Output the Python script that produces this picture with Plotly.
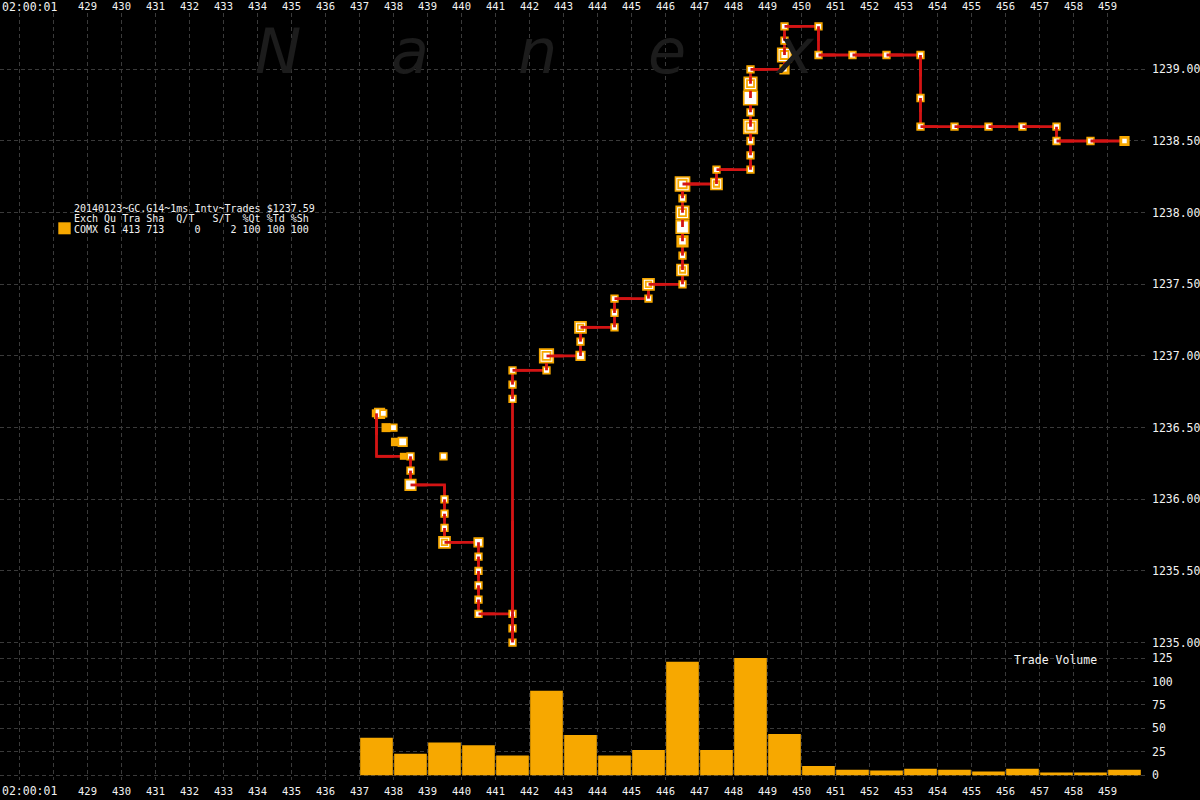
import numpy as np
import plotly.graph_objects as go

# ---------------- data ----------------
# trade volume per millisecond bucket
vol_ms = list(range(437, 460))
vol_shares = [40, 23, 35, 32, 21, 90, 43, 21, 27, 121, 27, 125, 44,
              10, 6, 5, 7, 6, 4, 7, 3, 3, 6]

# trades connected by the red line (ms, price, marker style, marker size)
path_ms = [437.5, 437.5, 438.5, 438.5, 438.5, 439.5, 439.5, 439.5, 439.5, 439.5,
           440.5, 440.5, 440.5, 440.5, 440.5, 440.5,
           441.5, 441.5, 441.5, 441.5, 441.5, 441.5,
           442.5, 442.5, 443.5, 443.5, 443.5, 444.5, 444.5, 444.5, 445.5, 445.5,
           446.5, 446.5, 446.5, 446.5, 446.5, 446.5, 446.5, 446.5,
           447.5, 447.5,
           448.5, 448.5, 448.5, 448.5, 448.5, 448.5, 448.5, 448.5,
           449.5, 449.5, 449.5, 449.5,
           450.5, 450.5, 451.5, 452.5, 453.5, 453.5, 453.5,
           454.5, 455.5, 456.5, 457.5, 457.5, 458.5, 459.5]
path_price = [1236.60, 1236.30, 1236.30, 1236.20, 1236.10, 1236.10, 1236.00, 1235.90, 1235.80, 1235.70,
              1235.70, 1235.60, 1235.50, 1235.40, 1235.30, 1235.20,
              1235.20, 1235.10, 1235.00, 1236.70, 1236.80, 1236.90,
              1236.90, 1237.00, 1237.00, 1237.10, 1237.20, 1237.20, 1237.30, 1237.40, 1237.40, 1237.50,
              1237.50, 1237.60, 1237.70, 1237.80, 1237.90, 1238.00, 1238.10, 1238.20,
              1238.20, 1238.30,
              1238.30, 1238.40, 1238.50, 1238.60, 1238.70, 1238.80, 1238.90, 1239.00,
              1239.00, 1239.10, 1239.20, 1239.30,
              1239.30, 1239.10, 1239.10, 1239.10, 1239.10, 1238.80, 1238.60,
              1238.60, 1238.60, 1238.60, 1238.60, 1238.50, 1238.50, 1238.50]
# '-' corner (no marker), 's' small, 'w' white, 'c' concentric, 'o' orange filled
path_style = ['-', '-', 's', 's', 'w', '-', 's', 's', 's', 'c',
              'w', 's', 's', 's', 's', 's',
              's', 's', 's', 's', 's', 's',
              's', 'c', 'w', 's', 'c', 's', 's', 's', 's', 'c',
              's', 'c', 's', 'o', 'w', 'c', 's', 'c',
              'c', 's',
              's', 's', 's', 'c', 's', 'w', 'c', 's',
              'o', 'c', 's', 's',
              's', 's', 's', 's', 's', 's', 's',
              's', 's', 's', 's', 's', 's', 'o']
path_size = [0, 0, 6.6, 6.6, 10.5, 0, 6.6, 6.6, 6.6, 11,
             8.5, 6.6, 6.6, 6.6, 6.6, 6.6,
             6.6, 6.6, 6.6, 6.6, 6.6, 6.6,
             6.6, 13.5, 8.5, 6.6, 11, 6.6, 6.6, 6.6, 6.6, 11,
             6.6, 11, 6.6, 10.5, 12.5, 12.5, 6.6, 14,
             11, 6.6,
             6.6, 6.6, 6.6, 13.5, 6.6, 13.5, 12.5, 6.6,
             8.5, 13.5, 6.6, 6.6,
             6.6, 6.6, 6.6, 6.6, 6.6, 6.6, 6.6,
             6.6, 6.6, 6.6, 6.6, 6.6, 6.6, 8.5]

# trades not on the line (first millisecond cluster)
off_orange_ms = [437.48, 437.78, 438.05, 438.29]
off_orange_price = [1236.60, 1236.50, 1236.40, 1236.30]
off_orange_size = [8, 9, 8.5, 7]
off_white_ms = [437.59, 437.70, 438.00, 438.27, 439.47]
off_white_price = [1236.60, 1236.60, 1236.50, 1236.40, 1236.30]
off_white_size = [9.5, 6.5, 6.5, 8.5, 6.6]

x_tick_vals = list(range(427, 460))
x_tick_text = ['' if v < 429 else str(v) for v in x_tick_vals]
price_ticks = [1235.0, 1235.5, 1236.0, 1236.5, 1237.0, 1237.5, 1238.0, 1238.5, 1239.0]
vol_ticks = [0, 25, 50, 75, 100, 125]

legend_lines = ["20140123~GC.G14~1ms Intv~Trades $1237.59",
                "Exch Qu Tra Sha  Q/T   S/T  %Qt %Td %Sh",
                "COMX 61 413 713     0     2 100 100 100"]
watermark = ["N", "a", "n", "e", "x"]

# ---------------- style ----------------
ORANGE = "#F7A800"
RED = "#D41414"
GRID = "#3a3a3a"
TXT = "#f2f2f2"
MONO = "DejaVu Sans Mono"

W, H = 1200, 800
ML, MR, MT, MB = 0, 54, 13, 20
PW, PH = W - ML - MR, H - MT - MB


def pxx(x):
    return (x - ML) / PW


def pxy(y):
    return (H - MB - y) / PH


VOL_TOP = 650.5
split = pxy(VOL_TOP)

fig = go.Figure()

# red line (full, under markers)
fig.add_trace(go.Scatter(x=path_ms, y=path_price, mode="lines",
                         line=dict(color=RED, width=2.8), xaxis="x", yaxis="y",
                         hoverinfo="skip"))

# off-line orange squares
fig.add_trace(go.Scatter(x=off_orange_ms, y=off_orange_price, mode="markers",
                         marker=dict(symbol="square", size=off_orange_size, color=ORANGE,
                                     opacity=1, line=dict(width=0)),
                         xaxis="x", yaxis="y", hoverinfo="skip"))
fig.add_trace(go.Scatter(x=off_white_ms, y=off_white_price, mode="markers",
                         marker=dict(symbol="square", size=off_white_size, color="white",
                                     opacity=1, line=dict(width=1.7, color=ORANGE)),
                         xaxis="x", yaxis="y", hoverinfo="skip"))

# outer markers on the path
idx = [i for i, s in enumerate(path_style) if s != '-']
fig.add_trace(go.Scatter(
    x=[path_ms[i] for i in idx], y=[path_price[i] for i in idx], mode="markers",
    marker=dict(symbol="square", size=[path_size[i] for i in idx], opacity=1,
                color=[ORANGE if path_style[i] == 'o' else "white" for i in idx],
                line=dict(width=1.7, color=ORANGE)),
    xaxis="x", yaxis="y", hoverinfo="skip"))

# inner squares of concentric markers
ic = [i for i, s in enumerate(path_style) if s == 'c']
fig.add_trace(go.Scatter(
    x=[path_ms[i] for i in ic], y=[path_price[i] for i in ic], mode="markers",
    marker=dict(symbol="square", size=[path_size[i] - 5.5 for i in ic], color="white",
                opacity=1, line=dict(width=1.8, color=ORANGE)),
    xaxis="x", yaxis="y", hoverinfo="skip"))

# white centres of orange markers
io = [i for i, s in enumerate(path_style) if s == 'o']
fig.add_trace(go.Scatter(
    x=[path_ms[i] for i in io], y=[path_price[i] for i in io], mode="markers",
    marker=dict(symbol="square", size=[path_size[i] - 4 for i in io], color="white",
                opacity=1, line=dict(width=0)),
    xaxis="x", yaxis="y", hoverinfo="skip"))

# red line halves leaving each trade, on top of its marker
xs = np.array(path_ms)
ys = np.array(path_price)
mx = (xs[:-1] + xs[1:]) / 2
my = (ys[:-1] + ys[1:]) / 2
hx, hy = [], []
for i in range(len(mx)):
    hx += [xs[i], mx[i], None]
    hy += [ys[i], my[i], None]
fig.add_trace(go.Scatter(x=hx, y=hy, mode="lines", line=dict(color=RED, width=2.8),
                         xaxis="x", yaxis="y", hoverinfo="skip"))

# volume bars
fig.add_trace(go.Bar(x=vol_ms, y=vol_shares, width=0.96, offset=0.02,
                     marker=dict(color=ORANGE, line=dict(width=0)),
                     xaxis="x2", yaxis="y2", hoverinfo="skip"))

x0 = 437.5 - 376.5 / 34.0
x_range = [x0, x0 + PW / 34.0]
common_x = dict(range=x_range, tickmode="array", tickvals=x_tick_vals, ticktext=x_tick_text,
                showgrid=True, gridcolor=GRID, griddash="4px,3px", gridwidth=1,
                zeroline=False, showline=False, ticks="",
                tickfont=dict(family=MONO, size=10.5, color=TXT))

fig.update_layout(
    width=W, height=H,
    margin=dict(l=ML, r=MR, t=MT, b=MB, pad=0),
    paper_bgcolor="black", plot_bgcolor="black",
    showlegend=False, hovermode=False,
    xaxis=dict(common_x, domain=[0, 1], anchor="y", side="top"),
    xaxis2=dict(common_x, domain=[0, 1], anchor="y2", side="bottom", matches="x",
                ticklabelstandoff=3),
    yaxis=dict(domain=[split, 1], range=[1234.945, 1239.393], anchor="x", side="right",
               tickmode="array", tickvals=price_ticks, tickformat=".2f",
               showgrid=True, gridcolor=GRID, griddash="4px,3px", zeroline=False,
               showline=False, ticks="", ticklabelstandoff=5,
               tickfont=dict(family=MONO, size=11.5, color=TXT)),
    yaxis2=dict(domain=[0, split], range=[-5, 133], anchor="x2", side="right",
                tickmode="array", tickvals=vol_ticks,
                showgrid=True, gridcolor=GRID, griddash="4px,3px", zeroline=False,
                showline=False, ticks="", ticklabelstandoff=5,
                tickfont=dict(family=MONO, size=11.5, color=TXT)),
)

ann = []
# watermark
wm_x = [278, 410, 537, 667, 795]
for ch, x in zip(watermark, wm_x):
    ann.append(dict(text="<i>" + ch + "</i>", x=pxx(x), y=pxy(52), xref="paper", yref="paper",
                    xanchor="center", yanchor="middle", showarrow=False,
                    font=dict(family="DejaVu Sans", size=62, color="#1c1c1c")))
# time labels
for yy in (7, 791):
    ann.append(dict(text="02:00:01", x=0, y=pxy(yy), xref="paper", yref="paper",
                    xanchor="left", yanchor="middle", showarrow=False,
                    font=dict(family=MONO, size=11.5, color=TXT)))
# legend block
for k, line in enumerate(legend_lines):
    ann.append(dict(text=line.replace(" ", "\u00a0"), x=pxx(71.5), y=pxy(208.5 + 10.3 * k),
                    xref="paper", yref="paper", xanchor="left", yanchor="middle",
                    showarrow=False, font=dict(family=MONO, size=10, color=TXT)))
ann.append(dict(text="Trade\u00a0Volume", x=pxx(1055), y=pxy(660), xref="paper", yref="paper",
                xanchor="center", yanchor="middle", showarrow=False,
                font=dict(family=MONO, size=11.5, color=TXT)))
fig.update_layout(annotations=ann)

fig.add_shape(type="rect", xref="paper", yref="paper",
              x0=pxx(58.3), x1=pxx(70.7), y0=pxy(234.3), y1=pxy(222.3),
              fillcolor=ORANGE, line=dict(width=0))

fig.write_html("out.html", config={"displayModeBar": False},
               post_script="document.body.style.margin='0px';document.body.style.overflow='hidden';")
